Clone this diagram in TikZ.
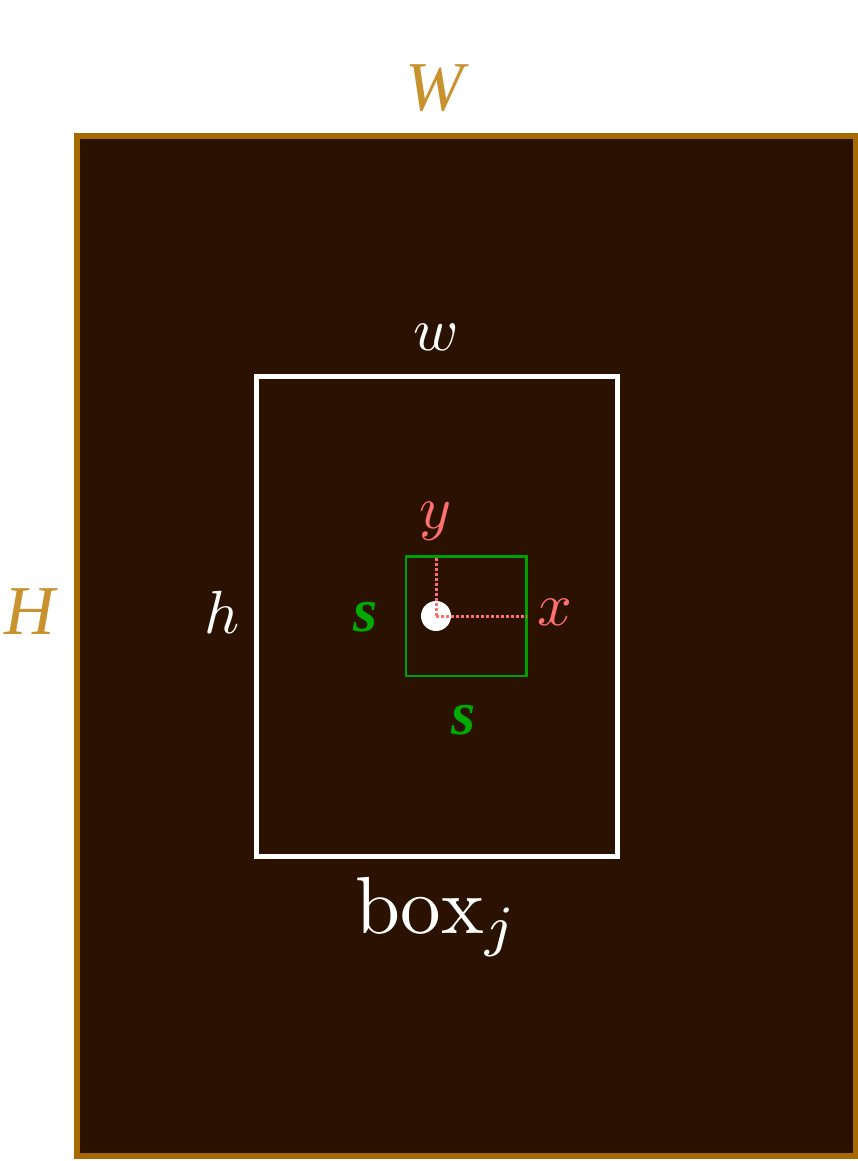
\documentclass[tikz,border=0pt]{standalone}
\usepackage{amsmath}
\usepackage{amssymb}
\usepackage{fontspec}
\usepackage{tikz}

\newfontfamily\timesface{Liberation Serif}

\definecolor{bgbrown}{RGB}{43,18,0}
\definecolor{framebrown}{RGB}{166,106,0}
\definecolor{labelgold}{RGB}{200,146,46}
\definecolor{coordpink}{RGB}{255,112,112}
\definecolor{boxgreen}{RGB}{0,160,0}
\definecolor{sizegreen}{RGB}{0,170,0}

\tikzset{
  biglabel/.style={font=\fontsize{70}{74}\selectfont\timesface\itshape, text=labelgold, inner sep=0pt},
  dimlabel/.style={font=\fontsize{10}{12}\selectfont, scale=6.1, transform shape, text=white, inner sep=0pt},
  coordlabel/.style={font=\fontsize{10}{12}\selectfont, scale=6.1, transform shape, text=coordpink, inner sep=0pt},
  sizelabel/.style={font=\fontsize{62}{66}\selectfont\timesface\bfseries\itshape, text=sizegreen, inner sep=0pt},
  dotline/.style={coordpink, line width=3pt, dash pattern=on 3pt off 2pt}
}

\begin{document}
\begin{tikzpicture}[x=1pt,y=-1pt]

\useasboundingbox (0,0) rectangle (858,1161);

\draw[framebrown, line width=6pt, fill=bgbrown] (76.5,136) rectangle (855.5,1156);

\node[biglabel] (W) at (435,88) {W};
\node[biglabel] (H) at (30,612) {H};

\draw[white, line width=5pt] (256,376) rectangle (617,856);

\node[dimlabel] (w) at (436,337) {\(w\)};
\node[dimlabel] (h) at (222,612) {\(h\)};
\node[font=\fontsize{10}{12}\selectfont, scale=8.1, transform shape, text=white, inner sep=0pt] (boxj) at (437,917) {\(\mathrm{box}_j\)};

\draw[boxgreen, line width=2.5pt] (406,556.5) rectangle (526.5,676);

\node[sizelabel] (sl) at (366,617) {s};
\node[sizelabel] (sb) at (464,720) {s};

\node[circle, fill=white, minimum size=30pt, inner sep=0pt] (c) at (436,616) {};
\coordinate (top) at (436,556.5);
\coordinate (right) at (526.5,616);

\draw[dotline] (c.center) -- (top);
\draw[dotline] (c.center) -- (right);

\node[coordlabel] (y) at (436,521) {\(y\)};
\node[coordlabel] (x) at (555,612) {\(x\)};

\end{tikzpicture}
\end{document}
